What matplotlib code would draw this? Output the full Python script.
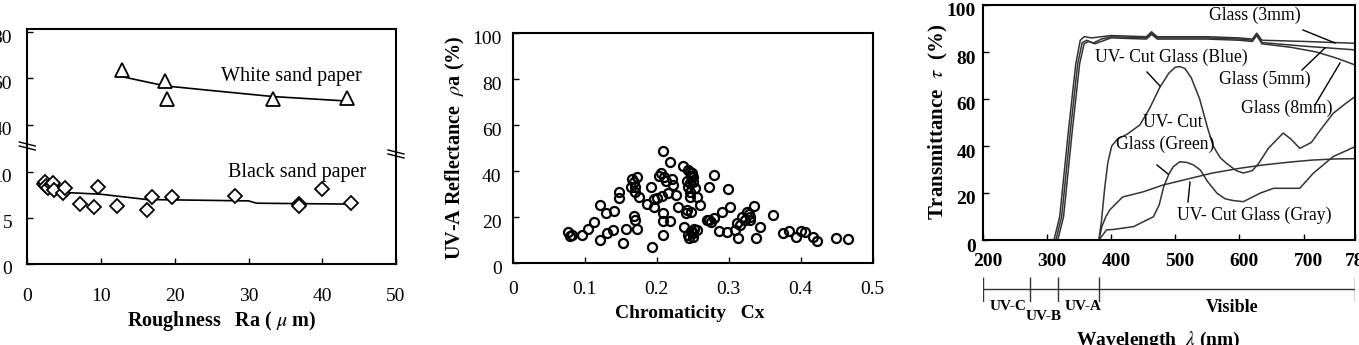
import numpy as np
import matplotlib.pyplot as plt
from matplotlib.lines import Line2D
from matplotlib.transforms import ScaledTranslation

plt.rcParams['font.family'] = ['Liberation Serif', 'DejaVu Serif']
plt.rcParams['mathtext.fontset'] = 'stix'

# -----------------------------
# Panel 1: reflectance vs roughness
# -----------------------------
white_x = [12.8, 18.7, 18.9, 33.3, 43.4]
white_y = [63.5, 59.0, 51.0, 51.2, 51.6]
white_fit_x = [12.8, 18.7, 25.0, 33.4, 43.3]
white_fit_y = [60.8, 56.8, 54.8, 52.2, 50.3]

black_x = [2.2, 2.4, 2.6, 2.8, 3.3, 3.5, 3.6, 4.9, 5.1, 7.2, 9.0, 9.6,
           12.1, 16.2, 16.9, 19.6, 28.2, 36.9, 36.9, 39.9, 43.9]
black_y = [8.7, 8.9, 8.5, 8.3, 8.6, 8.8, 8.0, 7.7, 8.2, 6.5, 6.2, 8.4,
           6.3, 5.9, 7.3, 7.25, 7.4, 6.5, 6.3, 8.1, 6.6]
black_fit_x = [2.3, 5.5, 10.0, 16.2, 19.8, 30.0, 31.1, 43.8]
black_fit_y = [8.4, 7.75, 7.57, 7.0, 6.96, 6.85, 6.6, 6.5]

# -----------------------------
# Panel 2: UV-A reflectance vs chromaticity
# -----------------------------
cx = [0.077, 0.080, 0.082, 0.096, 0.104, 0.113, 0.121, 0.121, 0.130, 0.131,
      0.140, 0.139, 0.148, 0.148, 0.153, 0.158, 0.165, 0.164, 0.172, 0.170,
      0.176, 0.168, 0.170, 0.172, 0.168, 0.170, 0.192, 0.193, 0.186, 0.196,
      0.196, 0.200, 0.209, 0.206, 0.210, 0.203, 0.218, 0.208, 0.216, 0.209,
      0.209, 0.209, 0.219, 0.213, 0.221, 0.223, 0.227, 0.230, 0.236, 0.238,
      0.244, 0.249, 0.251, 0.246, 0.246, 0.253, 0.246, 0.256, 0.247, 0.249,
      0.251, 0.256, 0.242, 0.248, 0.244, 0.250, 0.246, 0.243, 0.247, 0.250,
      0.245, 0.252, 0.240, 0.242, 0.260, 0.272, 0.280, 0.272, 0.279, 0.270,
      0.275, 0.286, 0.290, 0.297, 0.299, 0.302, 0.309, 0.312, 0.313, 0.318,
      0.325, 0.329, 0.335, 0.330, 0.322, 0.328, 0.316, 0.338, 0.344, 0.361,
      0.375, 0.384, 0.394, 0.401, 0.406, 0.417, 0.423, 0.449, 0.465]
rho = [13.8, 11.9, 12.5, 12.3, 14.8, 18.1, 10.1, 25.4, 21.7, 13.0,
       22.9, 14.5, 31.2, 28.3, 8.7, 14.8, 36.5, 33.3, 37.7, 31.2,
       29.0, 20.6, 18.8, 14.8, 35.5, 33.0, 33.0, 7.0, 25.8, 27.8,
       24.3, 28.5, 49.0, 39.1, 37.7, 38.0, 43.9, 29.3, 30.7, 21.7,
       18.6, 12.3, 18.6, 36.0, 36.5, 34.1, 29.7, 24.6, 42.3, 15.9,
       40.6, 39.4, 37.7, 34.8, 31.2, 32.6, 29.0, 29.0, 22.5, 13.8,
       11.6, 14.5, 36.0, 38.0, 33.0, 35.5, 39.5, 12.5, 14.0, 13.0,
       11.0, 15.0, 22.0, 23.0, 25.4, 33.0, 38.4, 18.8, 19.6, 19.0,
       18.0, 14.1, 22.5, 13.8, 32.2, 24.3, 14.5, 17.4, 10.9, 20.0,
       22.5, 20.3, 24.9, 18.8, 19.0, 21.5, 16.5, 10.9, 15.7, 21.0,
       13.0, 14.2, 11.3, 14.2, 13.8, 11.3, 9.9, 10.9, 10.4]

# -----------------------------
# Panel 3: transmittance spectra
# -----------------------------
wl_3mm = [311, 320, 333, 345, 352, 358, 370, 385, 400, 455, 463, 472, 550, 600,
          620, 627, 635, 700, 780]
tr_3mm = [0, 10, 45, 75, 85, 86.5, 86, 86.5, 87, 86.5, 88.6, 86.5, 86.5, 86,
          85.5, 88, 85, 84.5, 83.7]
wl_5mm = [314, 323, 336, 348, 355, 362, 372, 385, 400, 455, 463, 472, 550, 600,
          620, 627, 635, 700, 750, 780]
tr_5mm = [0, 10, 45, 75, 84, 85, 83.8, 85.5, 86.5, 86, 88, 86, 86, 85.5,
          85, 87.5, 84, 82.5, 81.5, 80.9]
wl_8mm = [317, 326, 339, 351, 358, 365, 375, 390, 400, 455, 463, 472, 550, 600,
          620, 627, 635, 680, 720, 750, 780]
tr_8mm = [0, 10, 45, 75, 83.5, 84.5, 83.5, 85, 86, 85.5, 87.5, 85.5, 85.5, 85,
          84.5, 87, 83.5, 82, 80, 77.5, 74.5]
wl_blue = [381, 385, 390, 395, 401, 410, 425, 445, 460, 476, 490, 500, 507, 515,
           525, 538, 550, 559, 570, 580, 595, 606, 620, 630, 645, 668, 680, 694,
           712, 726, 746, 765, 780]
tr_blue = [0, 8, 22, 33, 40, 43, 45, 49, 56, 65, 71, 73.5, 73.8, 73,
           69, 60, 48, 40, 35, 32.6, 29.5, 28.5, 29.5, 32.6, 39, 45.5, 43, 39,
           41.5, 46.8, 53.9, 58, 61]
wl_green = [381, 393, 404, 435, 466, 475, 482, 490, 497, 507, 518, 528, 539, 550,
            565, 578, 590, 606, 632, 653, 663, 694, 715, 746, 780]
tr_green = [0, 4.3, 4.5, 5.7, 9.9, 15, 22.7, 28, 31.2, 33.3, 33.0, 32.0, 29.8, 25,
            19.9, 17.5, 16.8, 16.3, 19.9, 22.0, 22.0, 22.0, 28.4, 35.5, 39.7]
wl_gray = [381, 386, 392, 398, 418, 450, 481, 520, 558, 600, 636, 680, 713, 750, 780]
tr_gray = [0, 6, 10, 12.8, 18.3, 20.5, 23.4, 26, 28.5, 30.5, 31.9, 33.2, 34, 34.5, 34.6]

band_edges = [200, 273, 318, 381, 780]

W, H = 1359, 345
fig = plt.figure(figsize=(W / 100, H / 100), dpi=100)


def box(l, t, r, b):
    return [l / W, 1 - b / H, (r - l) / W, (b - t) / H]


def ftext(x, y, s, **kw):
    fig.text(x / W, 1 - y / H, s, ha=kw.pop('ha', 'center'), va=kw.pop('va', 'center'), **kw)


def fline(xs, ys, lw=1.0):
    fig.add_artist(Line2D([x / W for x in xs], [1 - y / H for y in ys],
                          color='black', lw=lw, transform=fig.transFigure))


def style(ax, size=14):
    for s in ax.spines.values():
        s.set_linewidth(1.5)
    ax.tick_params(direction='in', length=4, width=1, labelsize=size)


def drop_ylabels(ax, px=4):
    # labels in the original sit a few pixels below their ticks
    for lab in ax.get_yticklabels():
        lab.set_transform(lab.get_transform() + ScaledTranslation(0, -px / 100, fig.dpi_scale_trans))


# -----------------------------
# Panel 1
# -----------------------------
ax_lo = fig.add_axes(box(27.3, 147, 396, 264))
ax_hi = fig.add_axes(box(27.3, 29, 396, 147))
for a in (ax_lo, ax_hi):
    style(a, 14)
    a.set_xlim(0, 50)
ax_lo.set_ylim(0, 12.7)
ax_hi.set_ylim(30.5, 81.3)
ax_lo.spines['top'].set_visible(False)
ax_hi.spines['bottom'].set_visible(False)
ax_hi.set_xticks([])
ax_hi.set_yticks([40, 60, 80])
ax_lo.set_yticks([0, 5, 10])
ax_lo.set_xticks([0, 10, 20, 30, 40, 50])
ax_lo.tick_params(axis='x', pad=17)
ax_lo.tick_params(axis='y', pad=11)
ax_hi.tick_params(axis='y', pad=11)
drop_ylabels(ax_lo)
drop_ylabels(ax_hi)

ax_hi.plot(white_fit_x, white_fit_y, color='black', lw=1.2)
ax_hi.plot(white_x, white_y, ls='none', marker='^', ms=10, mfc='white',
           mec='black', mew=1.3)
ax_lo.plot(black_fit_x, black_fit_y, color='black', lw=1.2)
ax_lo.plot(black_x, black_y, ls='none', marker='D', ms=7.5, mfc='white',
           mec='black', mew=1.3)

ftext(291, 77, 'White sand paper', fontsize=14.5)
ftext(297, 173, 'Black sand paper', fontsize=14.5)
ftext(222, 321, r'Roughness   Ra ( $\mu$ m)', fontsize=14.5, fontweight='bold')

# axis break marks
for (bx, by) in [(27.3, 147), (396, 155)]:
    fline([bx - 8, bx + 8], [by - 5, by - 1], lw=1.0)
    fline([bx - 8, bx + 8], [by - 1, by + 3], lw=1.0)

# -----------------------------
# Panel 2
# -----------------------------
ax2 = fig.add_axes(box(512.7, 33.3, 872.7, 263.3))
style(ax2, 14)
ax2.set_xlim(0, 0.5)
ax2.set_ylim(0, 100)
ax2.set_xticks([0, 0.1, 0.2, 0.3, 0.4, 0.5])
ax2.set_xticklabels(['0', '0.1', '0.2', '0.3', '0.4', '0.5'])
ax2.set_yticks([0, 20, 40, 60, 80, 100])
ax2.tick_params(axis='x', pad=13)
ax2.tick_params(axis='y', pad=8)
drop_ylabels(ax2)
ax2.plot(cx, rho, ls='none', marker='o', ms=6.5, mfc='none', mec='black', mew=1.6)
ftext(690, 313, 'Chromaticity   Cx', fontsize=14, fontweight='bold')
ftext(455, 148, r'UV-A Reflectance  $\rho$a (%)', fontsize=14.5, fontweight='bold',
      rotation=90)

# -----------------------------
# Panel 3
# -----------------------------
ax3 = fig.add_axes(box(982.7, 5, 1355, 240))
style(ax3, 14)
ax3.set_xlim(200, 780)
ax3.set_ylim(0, 100)
ax3.set_xticks([200, 300, 400, 500, 600, 700, 780])
ax3.set_yticks([0, 20, 40, 60, 80, 100])
ax3.tick_params(axis='x', pad=9)
ax3.tick_params(axis='y', pad=5)
for lab in ax3.get_xticklabels() + ax3.get_yticklabels():
    lab.set_fontweight('bold')
for lab in ax3.get_xticklabels():
    lab.set_transform(lab.get_transform() + ScaledTranslation(0.05, 0, fig.dpi_scale_trans))
drop_ylabels(ax3, 5)
for wl, tr in [(wl_3mm, tr_3mm), (wl_5mm, tr_5mm), (wl_8mm, tr_8mm),
               (wl_blue, tr_blue), (wl_green, tr_green), (wl_gray, tr_gray)]:
    ax3.plot(wl, tr, color='#333333', lw=1.1)

ftext(1255, 15, 'Glass (3mm)', fontsize=12.7)
ftext(1171, 57, 'UV- Cut Glass (Blue)', fontsize=12.7)
ftext(1265, 79, 'Glass (5mm)', fontsize=12.7)
ftext(1287, 108, 'Glass (8mm)', fontsize=12.7)
ftext(1173, 123, 'UV- Cut', fontsize=12.7)
ftext(1165, 144, 'Glass (Green)', fontsize=12.7)
ftext(1254, 215, 'UV- Cut Glass (Gray)', fontsize=12.7)
for xs, ys in [([1303, 1335], [30, 43]), ([1147, 1160], [72, 86]),
               ([1302, 1325], [70, 48]), ([1315, 1340], [105, 63]),
               ([1157, 1168], [165, 174]), ([1190, 1188], [182, 202])]:
    fline(xs, ys, lw=1.0)

ftext(938, 122, r'Transmittance  $\tau$  (%)', fontsize=15, fontweight='bold',
      rotation=90)

# wavelength band bar
band = fig.add_axes(box(982.7, 276.7, 1355, 301.7))
band.set_xlim(200, 780)
band.set_ylim(0, 1)
band.axis('off')
band.plot([band_edges[0], band_edges[-1]], [0.5, 0.5], color='#333333', lw=1.0)
band.vlines(band_edges, 0, 1, color='#333333', lw=1.0)
ftext(1008, 307, 'UV-C', fontsize=11, fontweight='bold')
ftext(1044, 316, 'UV-B', fontsize=11, fontweight='bold')
ftext(1083, 307, 'UV-A', fontsize=11, fontweight='bold')
ftext(1232, 307, 'Visible', fontsize=13, fontweight='bold')
ftext(1158, 340, r'Wavelength  $\lambda$ (nm)', fontsize=14, fontweight='bold')

fig.savefig('out.png', dpi=100)
